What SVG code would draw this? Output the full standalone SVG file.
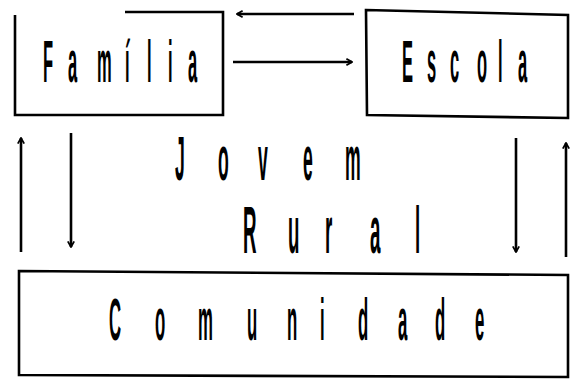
<svg xmlns="http://www.w3.org/2000/svg" width="571" height="379" viewBox="0 0 571 379">
<style>
.box{fill:none;stroke:#000;stroke-width:2.6;stroke-linejoin:miter}
.lbl{font-family:"Liberation Sans",Arial,sans-serif;font-weight:bold;fill:#000}
.arr{fill:none;stroke:#000;stroke-width:2.6;marker-end:url(#ah)}
</style>
<defs>
<marker id="ah" viewBox="0 0 10 10" refX="8.5" refY="5" markerWidth="8" markerHeight="8" markerUnits="userSpaceOnUse" orient="auto">
<path d="M1.5,1 L8.5,5 L1.5,9" fill="none" stroke="#000" stroke-width="2.2"/>
</marker>
</defs>
<rect width="571" height="379" fill="#fff"/>
<g id="familia">
<path class="box" d="M125,12 L223,12 L223,115 L15,115 L15,15"/>
<text class="lbl" font-size="59" transform="scale(0.28,1)" y="82" x="153.6 242.9 346.4 446.4 525 600 671.4">Família</text>
</g>
<g id="escola">
<path class="box" d="M366,10 L568,15 L568,118 L367,115 Z"/>
<text class="lbl" font-size="59" transform="scale(0.28,1)" y="82" x="1435.7 1525 1607.1 1703.6 1778.6 1850">Escola</text>
</g>
<g id="jovem-rural">
<text class="lbl" font-size="63" transform="scale(0.28,1)" y="180" x="625 778.6 921.4 1082.1 1232.1">Jovem</text>
<text class="lbl" font-size="67" transform="scale(0.28,1)" y="253" x="867.9 1028.6 1160.7 1321.4 1482.1">Rural</text>
</g>
<g id="comunidade">
<path class="box" d="M19,271 L568,275 L568,377 L19,375 Z"/>
<text class="lbl" font-size="60" transform="scale(0.28,1)" y="340" x="389.3 553.6 707.1 882.1 1025 1142.9 1278.6 1421.4 1553.6 1696.4">Comunidade</text>
</g>
<g id="connectors">
<line class="arr" x1="354" y1="14" x2="237" y2="14"/>
<line class="arr" x1="233" y1="62" x2="352" y2="62"/>
<line class="arr" x1="21" y1="252" x2="21" y2="138"/>
<line class="arr" x1="71" y1="133" x2="71" y2="247"/>
<line class="arr" x1="516" y1="138" x2="516" y2="252"/>
<line class="arr" x1="566" y1="257" x2="566" y2="143"/>
</g>
</svg>
